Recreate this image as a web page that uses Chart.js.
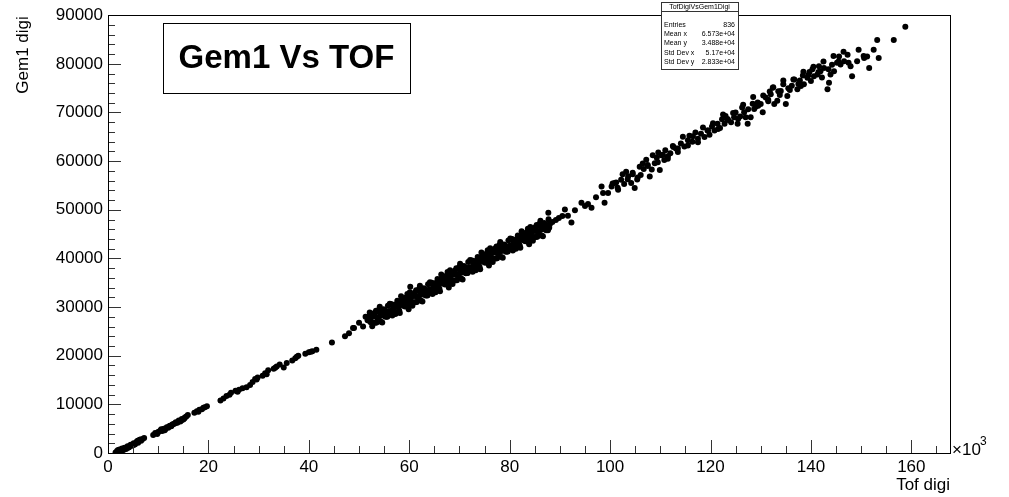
<!DOCTYPE html>
<html>
<head>
<meta charset="utf-8">
<script src="https://cdn.jsdelivr.net/npm/chart.js@4/dist/chart.umd.min.js"></script>
<style>
  body{margin:0;background:#fff;}
  canvas{display:block;}
</style>
</head>
<body>
<canvas id="scatter" width="1009" height="497"></canvas>
<script>
// TofDigiVsGem1Digi ([tof digi, gem1 digi])
const tofGem1 = [
  // low part
  [1500,100],[1800,400],[2100,200],[2300,700],[2600,300],[2800,900],[3100,600],[3300,1100],[3600,800],[3900,1400],
  [4200,1200],[4500,1700],[4800,1500],[5100,2000],[5400,1800],[5700,2300],[6000,2100],[6300,2700],[6600,2500],[6900,2900],
  [7200,3100],[9000,3700],[9400,4100],[9800,3900],[10200,4400],[10500,4700],[10800,4500],[11100,5000],[11400,4900],[11700,5300],
  [12000,5200],[12300,5600],[12600,5500],[12900,5900],[13200,6000],[13500,6300],[13800,6200],[14100,6700],[14400,6500],[14700,7000],
  [15000,6900],[15300,7300],[15600,7500],[15900,7800],[17200,8300],[17700,8600],[18200,8900],[18700,9000],[19300,9400],[19700,9600],
  [22400,10800],[23000,11200],[23600,11700],[24200,12000],[25400,12800],[26100,13000],[26800,13300],[27600,13500],[28300,14000],[28800,14600],
  [29300,15200],[29800,15500],[30800,15900],[31300,16400],[31900,17000],[33000,17300],[33600,17800],[34200,18200],[35000,17600],[35600,18500],
  [36700,19000],[37300,19500],[37900,20000],[39300,20400],[40000,20700],[40700,20900],[41500,21200],[44600,22700],[47200,24000],[48000,24600],
  [48800,25700],[50000,26800],[50800,26000],[51300,28000],[51700,27300],
  [2000,600],[2400,200],[3400,900],[4000,1100],[4400,1500],[5200,1700],[5900,2500],[6500,2800],[10000,4300],[10600,4900],
  [11300,4700],[12100,5400],[12800,5800],[13400,6100],[14000,6500],[14600,6700],[15200,7100],[18000,8500],[19000,9300],[24500,12400],
  [25800,12600],[29600,15100],[31600,16200],[33300,17500],[37600,19800],[40400,20800],
  // dense band
  [52000,28100],[52500,26780],[53000,28050],[53500,26830],[54000,29500],[54500,28250],[55000,29300],[55500,28050],[56000,29200],[56500,30580],
  [57000,29250],[57500,30230],[58000,29300],[58500,31380],[59000,30550],[59500,31630],[60000,32300],[60500,30980],[61000,32250],[61500,31030],
  [62000,33800],[62500,32580],[63000,33650],[63500,32430],[64000,33600],[64500,35000],[65000,33700],[65500,34700],[66000,33800],[66500,35880],
  [67000,35050],[67500,36130],[68000,36800],[68500,35480],[69000,36750],[69500,35530],[70000,38300],[70500,37100],[71000,38200],[71500,37000],
  [72000,38200],[72500,39580],[73000,38250],[73500,39230],[74000,38300],[74500,40380],[75000,39550],[75500,40630],[76000,41300],[76500,39980],
  [77000,41250],[77500,40030],[78000,42800],[78500,41580],[79000,42650],[79500,41430],[80000,42600],[80500,43980],[81000,42650],[81500,43630],
  [82000,42700],[82500,44780],[83000,43950],[83500,45030],[84000,45700],[84500,44380],[85000,45650],[85500,44430],[86000,47200],[86500,45980],
  [87000,47050],[87500,45830],[88000,47000],
  [52250,26940],[52750,28320],[53250,26790],[53750,29120],[54250,28230],[54750,28980],[55250,28030],[55750,30280],[56250,28740],[56750,29710],
  [57250,28590],[57750,30770],[58250,30740],[58750,30420],[59250,31890],[59750,30370],[60250,31140],[60750,32520],[61250,30990],[61750,33370],
  [62250,32540],[62750,33320],[63250,32390],[63750,34670],[64250,33150],[64750,34150],[65250,33050],[65750,35250],[66250,35240],[66750,34920],
  [67250,36390],[67750,34870],[68250,35640],[68750,37020],[69250,35490],[69750,37870],[70250,37050],[70750,37850],[71250,36950],[71750,39250],
  [72250,37740],[72750,38720],[73250,37590],[73750,39770],[74250,39740],[74750,39420],[75250,40890],[75750,39370],[76250,40140],[76750,41520],
  [77250,39990],[77750,42370],[78250,41540],[78750,42320],[79250,41390],[79750,43670],[80250,42140],[80750,43120],[81250,41990],[81750,44170],
  [82250,44140],[82750,43820],[83250,45290],[83750,43770],[84250,44540],[84750,45920],[85250,44390],[85750,46770],[86250,45940],[86750,46720],
  [87250,45790],[87750,48070],
  [52125,28870],[52625,26050],[53125,28820],[53625,27800],[54125,30070],[54625,26820],[55125,29270],[55625,28020],[56125,30670],[56625,28250],
  [57125,30020],[57625,31300],[58125,28770],[58625,31350],[59125,30120],[59625,32700],[60125,33070],[60625,30250],[61125,33020],[61625,32000],
  [62125,34370],[62625,31150],[63125,33620],[63625,32400],[64125,35080],[64625,32680],[65125,34480],[65625,35780],[66125,33270],[66625,35850],
  [67125,34620],[67625,37200],[68125,37570],[68625,34750],[69125,37520],[69625,36500],[70125,38880],[70625,35680],[71125,38180],[71625,36980],
  [72125,39670],[72625,37250],[73125,39020],[73625,40300],[74125,37770],[74625,40350],[75125,39120],[75625,41700],[76125,42070],[76625,39250],
  [77125,42020],[77625,41000],[78125,43370],[78625,40150],[79125,42620],[79625,41400],[80125,44070],[80625,41650],[81125,43420],[81625,44700],
  [82125,42170],[82625,44750],[83125,43520],[83625,46100],[84125,46470],[84625,43650],[85125,46420],[85625,45400],[86125,47770],[86625,44550],
  [87125,47020],[87625,45800],
  [52375,27810],[52875,26790],[53375,29260],[53875,27960],[54375,26990],[54875,29540],[55375,28990],[55875,28540],[56375,30510],[56875,28580],
  [57375,30560],[57875,30130],[58375,32210],[58875,30280],[59375,31360],[59875,29530],[60375,32010],[60875,30980],[61375,33460],[61875,32230],
  [62375,31310],[62875,33880],[63375,33360],[63875,32930],[64375,34920],[64875,33020],[65375,35020],[65875,34620],[66375,36710],[66875,34780],
  [67375,35860],[67875,34030],[68375,36510],[68875,35480],[69375,37960],[69875,36730],[70375,35820],[70875,38420],[71375,37920],[71875,37520],
  [72375,39510],[72875,37580],[73375,39560],[73875,39130],[74375,41210],[74875,39280],[75375,40360],[75875,38530],[76375,41010],[76875,39980],
  [77375,42460],[77875,41230],[78375,40310],[78875,42880],[79375,42360],[79875,41930],[80375,43910],[80875,41980],[81375,43960],[81875,43530],
  [82375,45610],[82875,43680],[83375,44760],[83875,42930],[84375,45410],[84875,44380],[85375,46860],[85875,45630],[86375,44710],[86875,47280],
  [87375,46760],[87875,46330],
  [60200,34200],[49000,25700],
  // upper part
  [87700,49400],[88500,47500],[89200,47900],[89800,48300],[90500,48700],[91000,50060],[91600,48780],[92300,47360],[93000,49900],[94300,51420],
  [95000,50800],[95600,51200],[96300,50400],[97200,52600],[98300,54800],[98600,53450],[98900,51420],[99600,53450],[100300,54800],[100900,55480],
  [101200,55600],[101600,54120],[102200,56150],[102800,55300],[103200,57800],[103600,56900],[104200,55480],[104500,57300],[104900,54460],[105400,56200],
  [105900,58870],[106100,57160],[106700,58400],[107200,60300],[107500,59190],[107900,56840],[108300,58300],[108900,59540],[109300,60700],[109600,61800],
  [109900,58180],[110200,61220],[110800,60210],[111000,62240],[111500,61000],[112000,61600],[112600,62900],[113100,62580],[113500,61900],[114100,63600],
  [114800,63000],[115500,64270],[115800,65200],[116400,64000],[117000,65900],[117500,64610],[118100,65630],[118800,64950],[119400,66300],[119800,65400],
  [120300,67100],[120800,66300],[121400,67660],[121900,66800],[122300,68600],[122800,67660],[123000,69300],[123400,68670],[124100,68000],[124700,69020],
  [125000,70000],[125400,67660],[125900,69200],[126300,71000],[126700,70030],[127000,69000],[127400,67660],[128000,69020],[128400,71800],[128700,70710],
  [129000,71200],[129400,72070],[130000,71720],[130400,70030],[131000,73080],[131500,72600],[131800,74300],[132000,73750],[132400,75110],[132700,71720],
  [133300,72390],[133800,73600],[134000,74420],[134500,75800],[135000,71720],[135300,73400],[135800,74600],[136200,75500],[136700,76790],[137300,74760],
  [137800,76600],[138000,75440],[138400,77600],[138600,75780],[139300,77140],[139700,78300],[140000,76450],[140300,78900],[140600,77470],[141300,77810],
  [141600,79500],[141900,78480],[142200,77200],[142600,79170],[143300,74760],[143600,76120],[143900,77810],[144200,79800],[144600,78480],[145200,80200],
  [145600,81530],[145900,79840],[146600,80510],[147300,81870],[147900,79490],[148200,77470],[149200,80510],[150600,81200],[151200,81530],[151600,79170],
  [152500,82880],[153200,84910],[153500,81200],[156500,84910],[158800,87610],
  [100500,55400],[101500,54550],[102500,57300],[103500,56300],[104500,57600],[105500,56650],[106500,59500],[107500,59000],[108500,61200],[109500,59750],
  [110500,61300],[111500,60500],[112500,63100],[113500,62600],[114500,65000],[115500,63200],[116500,65100],[117500,63900],[118500,66900],[119500,66300],
  [120500,67800],[121500,66600],[122500,69600],[123500,68450],[124500,69900],[125500,68650],[126500,71600],[127500,70650],[128500,73200],[129500,71400],
  [130500,73500],[131500,72300],[132500,75200],[133500,74350],[134500,76600],[135500,75000],[136500,76800],[137500,75850],[138500,78400],[139500,77700],
  [140500,79400],[141500,78300],[142500,80500],[143500,78900],[144500,81600],[145500,80500],[146500,82500],[147500,80200],[149500,82900],[150500,81600]
];

const xTicks = [0, 20000, 40000, 60000, 80000, 100000, 120000, 140000, 160000];
const yTicks = [0, 10000, 20000, 30000, 40000, 50000, 60000, 70000, 80000, 90000];
const xMax = 167700;
const yMax = 90000;

const statsLines = [
  ['Entries', '836'],
  ['Mean x', '6.573e+04'],
  ['Mean y', '3.488e+04'],
  ['Std Dev x', '5.17e+04'],
  ['Std Dev y', '2.833e+04']
];

const FONT = '"Liberation Sans", Arial, Helvetica, sans-serif';

// ROOT-like frame: inward ticks, frame box, titles, stats and title box
const rootFrame = {
  id: 'rootFrame',
  afterDraw(chart){
    const c = chart.ctx, a = chart.chartArea;
    const xs = chart.scales.x, ys = chart.scales.y;
    const left = Math.round(a.left), bottom = Math.round(a.bottom);
    c.save();
    c.fillStyle = '#333';
    for(let v=0; v<=xMax; v+=5000){
      const px = Math.round(xs.getPixelForValue(v));
      const len = v%20000===0 ? 13 : 7;
      c.fillRect(px, bottom-len, 1, len);
    }
    for(let v=0; v<=yMax; v+=2000){
      const py = Math.round(ys.getPixelForValue(v));
      const len = v%10000===0 ? 13 : 7;
      c.fillRect(left, py, len, 1);
    }
    c.strokeStyle = '#000';
    c.lineWidth = 1;
    c.strokeRect(left+0.5, Math.round(a.top)+0.5, Math.round(a.right-a.left), Math.round(a.bottom-a.top));

    // axis titles
    c.fillStyle = '#000';
    c.font = '17px ' + FONT;
    c.textAlign = 'right';
    c.textBaseline = 'middle';
    c.fillText('Tof digi', a.right, 485);
    c.save();
    c.translate(23, a.top+1);
    c.rotate(-Math.PI/2);
    c.fillText('Gem1 digi', 0, 0);
    c.restore();

    // x10^3
    c.textAlign = 'left';
    c.font = '17px ' + FONT;
    c.fillText('\u00d710', a.right+2, 450);
    c.font = '12px ' + FONT;
    c.fillText('3', a.right+30, 442);

    // title box
    c.fillStyle = '#fff';
    c.fillRect(163, 23, 247, 70);
    c.strokeStyle = '#000';
    c.strokeRect(163.5, 23.5, 247, 70);
    c.fillStyle = '#000';
    c.font = 'bold 33px ' + FONT;
    c.textAlign = 'center';
    c.fillText('Gem1 Vs TOF', 286.5, 59);

    // stats box
    const bx = 661, by = 2, bw = 77, bh = 67;
    c.fillStyle = '#fff';
    c.fillRect(bx, by, bw, bh);
    c.strokeStyle = '#333';
    c.strokeRect(bx+0.5, by+0.5, bw, bh);
    c.beginPath();
    c.moveTo(bx, by+9.5); c.lineTo(bx+bw, by+9.5);
    c.stroke();
    c.fillStyle = '#000';
    c.font = '7px ' + FONT;
    c.textAlign = 'center';
    c.fillText('TofDigiVsGem1Digi', bx+bw/2, by+5);
    statsLines.forEach(([k, v], i) => {
      const y = by + 23 + i*9.2;
      c.textAlign = 'left';
      c.fillText(k, bx+3, y);
      c.textAlign = 'right';
      c.fillText(v, bx+bw-3, y);
    });
    c.restore();
  }
};

new Chart(document.getElementById('scatter'), {
  type: 'scatter',
  data: {
    datasets: [{
      label: 'TofDigiVsGem1Digi',
      data: tofGem1.map(([x, y]) => ({x, y})),
      backgroundColor: '#000',
      borderColor: '#000',
      borderWidth: 0,
      pointRadius: 3
    }]
  },
  options: {
    responsive: false,
    animation: false,
    layout: {padding: {top: 10, right: 59, left: 0, bottom: 0}},
    plugins: {legend: {display: false}, tooltip: {enabled: false}},
    scales: {
      x: {
        type: 'linear', min: 0, max: xMax,
        afterBuildTicks: s => { s.ticks = xTicks.map(v => ({value: v})); },
        ticks: {callback: v => String(v/1000), color: '#000', font: {family: FONT, size: 17}, maxRotation: 0, padding: 4},
        grid: {display: false, drawTicks: false},
        border: {display: false},
        afterFit: s => { s.height = 44; }
      },
      y: {
        type: 'linear', min: 0, max: yMax,
        afterBuildTicks: s => { s.ticks = yTicks.map(v => ({value: v})); },
        ticks: {callback: v => String(v), color: '#000', font: {family: FONT, size: 17}, padding: 5},
        grid: {display: false, drawTicks: false},
        border: {display: false},
        afterFit: s => { s.width = 108; }
      }
    }
  },
  plugins: [rootFrame]
});
</script>
</body>
</html>
